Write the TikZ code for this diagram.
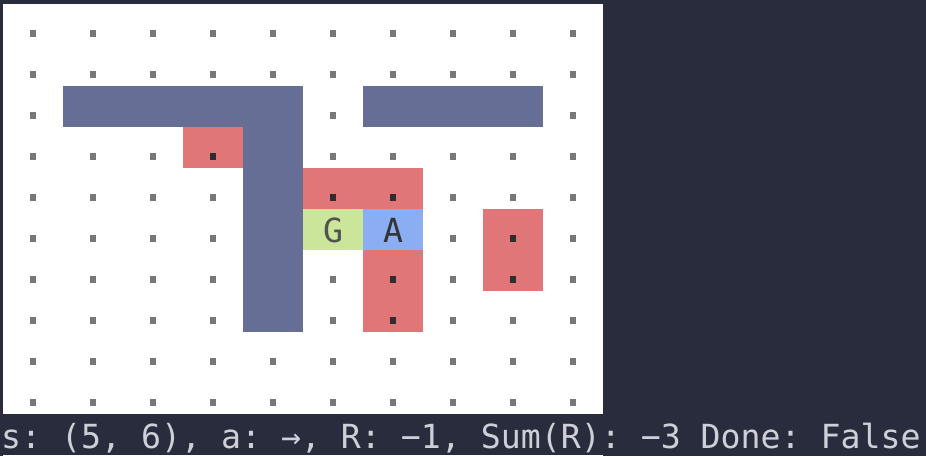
\documentclass[tikz,border=0pt]{standalone}
\usepackage{fontspec}
\usepackage{tikz}
\usetikzlibrary{positioning}
\newfontfamily\gridfont{DejaVu Sans Mono}
\definecolor{termbg}{HTML}{292C3C}
\definecolor{wallblue}{HTML}{676E95}
\definecolor{trapred}{HTML}{E07678}
\definecolor{goalgreen}{HTML}{CBE59A}
\definecolor{agentblue}{HTML}{8AADF4}
\definecolor{dotgray}{HTML}{777777}
\definecolor{dotdark}{HTML}{2E2E2E}
\definecolor{statusgray}{HTML}{CDD0D8}

\begin{document}
\begin{tikzpicture}[x=1pt,y=-1pt,
    cellwall/.style={fill=wallblue},
    celltrap/.style={fill=trapred},
    griddot/.style={fill=dotgray},
    trapdot/.style={fill=dotdark},
    letter/.style={inner sep=0pt,anchor=base,font=\gridfont\fontsize{33.2}{40}\selectfont\frenchspacing}]
        % Frame
        \useasboundingbox (0,0) rectangle (926,456);
        \fill[termbg] (0,0) rectangle (926,456);
        \fill[white] (3,4) rectangle (603,414);
        \fill[white] (3,455) rectangle (603,456);
        % Dots in every cell (60 wide, 41 high)
        \foreach \c in {0,...,9}
          \foreach \r in {0,...,9}
            \fill[griddot] ({30+60*\c},{29.5+41*\r}) rectangle ++(6,7);
        % Walls
        \fill[cellwall] (63,86) rectangle (303,127);
        \fill[cellwall] (243,127) rectangle (303,332);
        \fill[cellwall] (363,86) rectangle (543,127);
        % Traps
        \fill[celltrap] (183,127) rectangle (243,168);
        \fill[celltrap] (303,168) rectangle (423,209);
        \fill[celltrap] (363,250) rectangle (423,332);
        \fill[celltrap] (483,209) rectangle (543,291);
        \foreach \c/\r in {3/3,5/4,6/4,6/6,6/7,8/5,8/6}
          \fill[trapdot] ({30+60*\c},{29.5+41*\r}) rectangle ++(6,7);
        % Goal and agent
        \fill[goalgreen] (303,209) rectangle (363,250);
        \fill[agentblue] (363,209) rectangle (423,250);
        \node[letter,text=black!68] (goal) at (333,242) {G};
        \node[letter,text=black!80] (agent) at (393,242) {A};
        % Status line
        \node[letter,anchor=base west,text=statusgray] (status) at (1,448)
          {s: (5, 6), a: →, R: −1, Sum(R): −3 Done: False};
\end{tikzpicture}
\end{document}
